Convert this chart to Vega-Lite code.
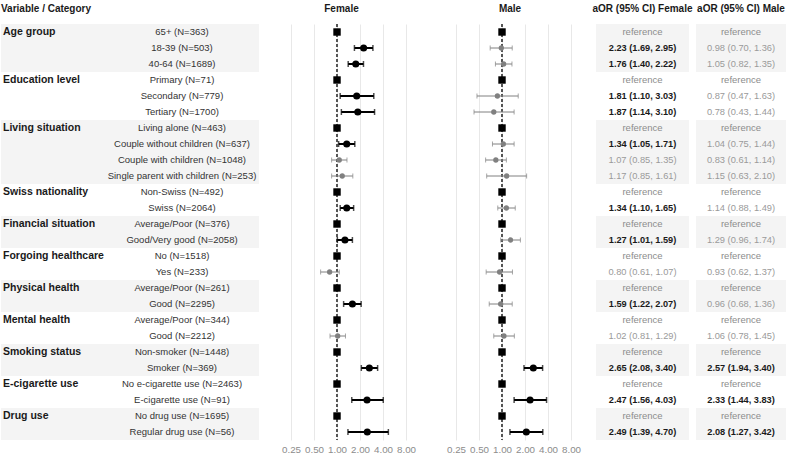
{
  "$schema": "https://vega.github.io/schema/vega-lite/v6.json",
  "padding": {"left": 1, "top": 3, "right": 0, "bottom": 0},
  "bounds": "flush",
  "spacing": 0,
  "config": {
    "view": {"stroke": null},
    "title": {"font": "Liberation Sans", "fontSize": 10, "fontWeight": "bold", "color": "#1a1a1a", "offset": 10},
    "axis": {"ticks": false, "domain": false, "gridColor": "#e8e8e8", "gridWidth": 1, "labelFont": "Liberation Sans", "labelFontSize": 9.8, "labelColor": "#8c8c8c", "labelPadding": 4, "labelOverlap": false, "labelBound": false, "title": null}
  },
  "datasets": {
    "rows": [
      {"r":1,"variable":"Age group","category":"65+ (N=363)","shade":1},
      {"r":2,"variable":"","category":"18-39 (N=503)","shade":1},
      {"r":3,"variable":"","category":"40-64 (N=1689)","shade":1},
      {"r":4,"variable":"Education level","category":"Primary (N=71)","shade":0},
      {"r":5,"variable":"","category":"Secondary (N=779)","shade":0},
      {"r":6,"variable":"","category":"Tertiary (N=1700)","shade":0},
      {"r":7,"variable":"Living situation","category":"Living alone (N=463)","shade":1},
      {"r":8,"variable":"","category":"Couple without children (N=637)","shade":1},
      {"r":9,"variable":"","category":"Couple with children (N=1048)","shade":1},
      {"r":10,"variable":"","category":"Single parent with children (N=253)","shade":1},
      {"r":11,"variable":"Swiss nationality","category":"Non-Swiss (N=492)","shade":0},
      {"r":12,"variable":"","category":"Swiss (N=2064)","shade":0},
      {"r":13,"variable":"Financial situation","category":"Average/Poor (N=376)","shade":1},
      {"r":14,"variable":"","category":"Good/Very good (N=2058)","shade":1},
      {"r":15,"variable":"Forgoing healthcare","category":"No (N=1518)","shade":0},
      {"r":16,"variable":"","category":"Yes (N=233)","shade":0},
      {"r":17,"variable":"Physical health","category":"Average/Poor (N=261)","shade":1},
      {"r":18,"variable":"","category":"Good (N=2295)","shade":1},
      {"r":19,"variable":"Mental health","category":"Average/Poor (N=344)","shade":0},
      {"r":20,"variable":"","category":"Good (N=2212)","shade":0},
      {"r":21,"variable":"Smoking status","category":"Non-smoker (N=1448)","shade":1},
      {"r":22,"variable":"","category":"Smoker (N=369)","shade":1},
      {"r":23,"variable":"E-cigarette use","category":"No e-cigarette use (N=2463)","shade":0},
      {"r":24,"variable":"","category":"E-cigarette use (N=91)","shade":0},
      {"r":25,"variable":"Drug use","category":"No drug use (N=1695)","shade":1},
      {"r":26,"variable":"","category":"Regular drug use (N=56)","shade":1}
    ],
    "est": [
      {"r":1,"sex":"Female","or":1,"lo":1,"hi":1,"type":"ref","label":"reference"},
      {"r":2,"sex":"Female","or":2.23,"lo":1.69,"hi":2.95,"type":"sig","label":"2.23 (1.69, 2.95)"},
      {"r":3,"sex":"Female","or":1.76,"lo":1.40,"hi":2.22,"type":"sig","label":"1.76 (1.40, 2.22)"},
      {"r":4,"sex":"Female","or":1,"lo":1,"hi":1,"type":"ref","label":"reference"},
      {"r":5,"sex":"Female","or":1.81,"lo":1.10,"hi":3.03,"type":"sig","label":"1.81 (1.10, 3.03)"},
      {"r":6,"sex":"Female","or":1.87,"lo":1.14,"hi":3.10,"type":"sig","label":"1.87 (1.14, 3.10)"},
      {"r":7,"sex":"Female","or":1,"lo":1,"hi":1,"type":"ref","label":"reference"},
      {"r":8,"sex":"Female","or":1.34,"lo":1.05,"hi":1.71,"type":"sig","label":"1.34 (1.05, 1.71)"},
      {"r":9,"sex":"Female","or":1.07,"lo":0.85,"hi":1.35,"type":"ns","label":"1.07 (0.85, 1.35)"},
      {"r":10,"sex":"Female","or":1.17,"lo":0.85,"hi":1.61,"type":"ns","label":"1.17 (0.85, 1.61)"},
      {"r":11,"sex":"Female","or":1,"lo":1,"hi":1,"type":"ref","label":"reference"},
      {"r":12,"sex":"Female","or":1.34,"lo":1.10,"hi":1.65,"type":"sig","label":"1.34 (1.10, 1.65)"},
      {"r":13,"sex":"Female","or":1,"lo":1,"hi":1,"type":"ref","label":"reference"},
      {"r":14,"sex":"Female","or":1.27,"lo":1.01,"hi":1.59,"type":"sig","label":"1.27 (1.01, 1.59)"},
      {"r":15,"sex":"Female","or":1,"lo":1,"hi":1,"type":"ref","label":"reference"},
      {"r":16,"sex":"Female","or":0.80,"lo":0.61,"hi":1.07,"type":"ns","label":"0.80 (0.61, 1.07)"},
      {"r":17,"sex":"Female","or":1,"lo":1,"hi":1,"type":"ref","label":"reference"},
      {"r":18,"sex":"Female","or":1.59,"lo":1.22,"hi":2.07,"type":"sig","label":"1.59 (1.22, 2.07)"},
      {"r":19,"sex":"Female","or":1,"lo":1,"hi":1,"type":"ref","label":"reference"},
      {"r":20,"sex":"Female","or":1.02,"lo":0.81,"hi":1.29,"type":"ns","label":"1.02 (0.81, 1.29)"},
      {"r":21,"sex":"Female","or":1,"lo":1,"hi":1,"type":"ref","label":"reference"},
      {"r":22,"sex":"Female","or":2.65,"lo":2.08,"hi":3.40,"type":"sig","label":"2.65 (2.08, 3.40)"},
      {"r":23,"sex":"Female","or":1,"lo":1,"hi":1,"type":"ref","label":"reference"},
      {"r":24,"sex":"Female","or":2.47,"lo":1.56,"hi":4.03,"type":"sig","label":"2.47 (1.56, 4.03)"},
      {"r":25,"sex":"Female","or":1,"lo":1,"hi":1,"type":"ref","label":"reference"},
      {"r":26,"sex":"Female","or":2.49,"lo":1.39,"hi":4.70,"type":"sig","label":"2.49 (1.39, 4.70)"},
      {"r":1,"sex":"Male","or":1,"lo":1,"hi":1,"type":"ref","label":"reference"},
      {"r":2,"sex":"Male","or":0.98,"lo":0.70,"hi":1.36,"type":"ns","label":"0.98 (0.70, 1.36)"},
      {"r":3,"sex":"Male","or":1.05,"lo":0.82,"hi":1.35,"type":"ns","label":"1.05 (0.82, 1.35)"},
      {"r":4,"sex":"Male","or":1,"lo":1,"hi":1,"type":"ref","label":"reference"},
      {"r":5,"sex":"Male","or":0.87,"lo":0.47,"hi":1.63,"type":"ns","label":"0.87 (0.47, 1.63)"},
      {"r":6,"sex":"Male","or":0.78,"lo":0.43,"hi":1.44,"type":"ns","label":"0.78 (0.43, 1.44)"},
      {"r":7,"sex":"Male","or":1,"lo":1,"hi":1,"type":"ref","label":"reference"},
      {"r":8,"sex":"Male","or":1.04,"lo":0.75,"hi":1.44,"type":"ns","label":"1.04 (0.75, 1.44)"},
      {"r":9,"sex":"Male","or":0.83,"lo":0.61,"hi":1.14,"type":"ns","label":"0.83 (0.61, 1.14)"},
      {"r":10,"sex":"Male","or":1.15,"lo":0.63,"hi":2.10,"type":"ns","label":"1.15 (0.63, 2.10)"},
      {"r":11,"sex":"Male","or":1,"lo":1,"hi":1,"type":"ref","label":"reference"},
      {"r":12,"sex":"Male","or":1.14,"lo":0.88,"hi":1.49,"type":"ns","label":"1.14 (0.88, 1.49)"},
      {"r":13,"sex":"Male","or":1,"lo":1,"hi":1,"type":"ref","label":"reference"},
      {"r":14,"sex":"Male","or":1.29,"lo":0.96,"hi":1.74,"type":"ns","label":"1.29 (0.96, 1.74)"},
      {"r":15,"sex":"Male","or":1,"lo":1,"hi":1,"type":"ref","label":"reference"},
      {"r":16,"sex":"Male","or":0.93,"lo":0.62,"hi":1.37,"type":"ns","label":"0.93 (0.62, 1.37)"},
      {"r":17,"sex":"Male","or":1,"lo":1,"hi":1,"type":"ref","label":"reference"},
      {"r":18,"sex":"Male","or":0.96,"lo":0.68,"hi":1.36,"type":"ns","label":"0.96 (0.68, 1.36)"},
      {"r":19,"sex":"Male","or":1,"lo":1,"hi":1,"type":"ref","label":"reference"},
      {"r":20,"sex":"Male","or":1.06,"lo":0.78,"hi":1.45,"type":"ns","label":"1.06 (0.78, 1.45)"},
      {"r":21,"sex":"Male","or":1,"lo":1,"hi":1,"type":"ref","label":"reference"},
      {"r":22,"sex":"Male","or":2.57,"lo":1.94,"hi":3.40,"type":"sig","label":"2.57 (1.94, 3.40)"},
      {"r":23,"sex":"Male","or":1,"lo":1,"hi":1,"type":"ref","label":"reference"},
      {"r":24,"sex":"Male","or":2.33,"lo":1.44,"hi":3.83,"type":"sig","label":"2.33 (1.44, 3.83)"},
      {"r":25,"sex":"Male","or":1,"lo":1,"hi":1,"type":"ref","label":"reference"},
      {"r":26,"sex":"Male","or":2.08,"lo":1.27,"hi":3.42,"type":"sig","label":"2.08 (1.27, 3.42)"}
    ]
  },
  "hconcat": [
    {
      "width": 258, "height": 416,
      "title": {"text": "Variable / Category", "anchor": "start"},
      "data": {"name": "rows"},
      "layer": [
        {"transform": [{"filter": "datum.shade == 1"}], "mark": {"type": "rect", "color": "#f4f4f4"},
         "encoding": {"y": {"field": "r", "type": "ordinal", "scale": {"domain": [1,2,3,4,5,6,7,8,9,10,11,12,13,14,15,16,17,18,19,20,21,22,23,24,25,26], "paddingInner": 0, "paddingOuter": 0}, "axis": null}}},
        {"mark": {"type": "text", "align": "left", "baseline": "middle", "font": "Liberation Sans", "fontSize": 10.5, "fontWeight": "bold", "color": "#1a1a1a"},
         "encoding": {"y": {"field": "r", "type": "ordinal"}, "x": {"datum": "var", "type": "nominal", "scale": {"type": "point", "domain": ["var", "cat"], "range": [2, 181], "padding": 0}, "axis": null}, "text": {"field": "variable"}}},
        {"mark": {"type": "text", "align": "center", "baseline": "middle", "font": "Liberation Sans", "fontSize": 9.5, "color": "#333333"},
         "encoding": {"y": {"field": "r", "type": "ordinal"}, "x": {"datum": "cat", "type": "nominal"}, "text": {"field": "category"}}}
      ]
    },
    {
      "width": 165, "height": 416,
      "title": "Female",
      "data": {"name": "est"},
      "transform": [{"filter": "datum.sex == 'Female'"}],
      "encoding": {
        "y": {"field": "r", "type": "ordinal", "scale": {"domain": [1,2,3,4,5,6,7,8,9,10,11,12,13,14,15,16,17,18,19,20,21,22,23,24,25,26], "paddingInner": 0, "paddingOuter": 0}, "axis": null}
      },
      "layer": [
        {"mark": {"type": "rule", "color": "#555555", "strokeDash": [3, 2], "strokeWidth": 1},
         "encoding": {"x": {"datum": 1, "type": "quantitative", "scale": {"type": "log", "base": 2, "domain": [0.0952, 13.76], "nice": false, "zero": false}, "axis": {"values": [0.25, 0.5, 1, 2, 4, 8], "format": ".2f", "grid": true, "orient": "bottom"}}, "y": null}},
        {"transform": [{"filter": "datum.type == 'ns'"}], "mark": {"type": "rule", "color": "#808080", "strokeWidth": 1},
         "encoding": {"x": {"field": "lo", "type": "quantitative"}, "x2": {"field": "hi"}}},
        {"transform": [{"filter": "datum.type == 'ns'"}, {"fold": ["lo", "hi"], "as": ["k", "v"]}], "mark": {"type": "tick", "color": "#808080", "thickness": 1, "size": 5},
         "encoding": {"x": {"field": "v", "type": "quantitative"}}},
        {"transform": [{"filter": "datum.type == 'ns'"}], "mark": {"type": "circle", "color": "#808080", "opacity": 1, "size": 28},
         "encoding": {"x": {"field": "or", "type": "quantitative"}}},
        {"transform": [{"filter": "datum.type == 'sig'"}], "mark": {"type": "rule", "color": "#000000", "strokeWidth": 2},
         "encoding": {"x": {"field": "lo", "type": "quantitative"}, "x2": {"field": "hi"}}},
        {"transform": [{"filter": "datum.type == 'sig'"}, {"fold": ["lo", "hi"], "as": ["k", "v"]}], "mark": {"type": "tick", "color": "#000000", "thickness": 1.5, "size": 6},
         "encoding": {"x": {"field": "v", "type": "quantitative"}}},
        {"transform": [{"filter": "datum.type == 'sig'"}], "mark": {"type": "circle", "color": "#000000", "opacity": 1, "size": 50},
         "encoding": {"x": {"field": "or", "type": "quantitative"}}},
        {"transform": [{"filter": "datum.type == 'ref'"}], "mark": {"type": "square", "color": "#000000", "opacity": 1, "size": 55},
         "encoding": {"x": {"field": "or", "type": "quantitative"}}}
      ]
    },
    {
      "width": 172, "height": 416,
      "title": "Male",
      "data": {"name": "est"},
      "transform": [{"filter": "datum.sex == 'Male'"}],
      "encoding": {
        "y": {"field": "r", "type": "ordinal", "scale": {"domain": [1,2,3,4,5,6,7,8,9,10,11,12,13,14,15,16,17,18,19,20,21,22,23,24,25,26], "paddingInner": 0, "paddingOuter": 0}, "axis": null}
      },
      "layer": [
        {"mark": {"type": "rule", "color": "#555555", "strokeDash": [3, 2], "strokeWidth": 1},
         "encoding": {"x": {"datum": 1, "type": "quantitative", "scale": {"type": "log", "base": 2, "domain": [0.0952, 17.0], "nice": false, "zero": false}, "axis": {"values": [0.25, 0.5, 1, 2, 4, 8], "format": ".2f", "grid": true, "orient": "bottom"}}, "y": null}},
        {"transform": [{"filter": "datum.type == 'ns'"}], "mark": {"type": "rule", "color": "#808080", "strokeWidth": 1},
         "encoding": {"x": {"field": "lo", "type": "quantitative"}, "x2": {"field": "hi"}}},
        {"transform": [{"filter": "datum.type == 'ns'"}, {"fold": ["lo", "hi"], "as": ["k", "v"]}], "mark": {"type": "tick", "color": "#808080", "thickness": 1, "size": 5},
         "encoding": {"x": {"field": "v", "type": "quantitative"}}},
        {"transform": [{"filter": "datum.type == 'ns'"}], "mark": {"type": "circle", "color": "#808080", "opacity": 1, "size": 28},
         "encoding": {"x": {"field": "or", "type": "quantitative"}}},
        {"transform": [{"filter": "datum.type == 'sig'"}], "mark": {"type": "rule", "color": "#000000", "strokeWidth": 2},
         "encoding": {"x": {"field": "lo", "type": "quantitative"}, "x2": {"field": "hi"}}},
        {"transform": [{"filter": "datum.type == 'sig'"}, {"fold": ["lo", "hi"], "as": ["k", "v"]}], "mark": {"type": "tick", "color": "#000000", "thickness": 1.5, "size": 6},
         "encoding": {"x": {"field": "v", "type": "quantitative"}}},
        {"transform": [{"filter": "datum.type == 'sig'"}], "mark": {"type": "circle", "color": "#000000", "opacity": 1, "size": 50},
         "encoding": {"x": {"field": "or", "type": "quantitative"}}},
        {"transform": [{"filter": "datum.type == 'ref'"}], "mark": {"type": "square", "color": "#000000", "opacity": 1, "size": 55},
         "encoding": {"x": {"field": "or", "type": "quantitative"}}}
      ]
    },
    {
      "spacing": 7,
      "bounds": "flush",
      "hconcat": [
        {
          "width": 93, "height": 416,
          "title": "aOR (95% CI) Female",
          "encoding": {"y": {"field": "r", "type": "ordinal", "scale": {"domain": [1,2,3,4,5,6,7,8,9,10,11,12,13,14,15,16,17,18,19,20,21,22,23,24,25,26], "paddingInner": 0, "paddingOuter": 0}, "axis": null}},
          "layer": [
            {"data": {"name": "rows"}, "transform": [{"filter": "datum.shade == 1"}], "mark": {"type": "rect", "color": "#f4f4f4"}},
            {"data": {"name": "est"}, "transform": [{"filter": "datum.sex == 'Female' && datum.type == 'ref'"}], "mark": {"type": "text", "baseline": "middle", "font": "Liberation Sans", "fontSize": 9.5, "color": "#8c8c8c"}, "encoding": {"text": {"field": "label"}}},
            {"data": {"name": "est"}, "transform": [{"filter": "datum.sex == 'Female' && datum.type == 'ns'"}], "mark": {"type": "text", "baseline": "middle", "font": "Liberation Sans", "fontSize": 9.3, "color": "#9a9a9a"}, "encoding": {"text": {"field": "label"}}},
            {"data": {"name": "est"}, "transform": [{"filter": "datum.sex == 'Female' && datum.type == 'sig'"}], "mark": {"type": "text", "baseline": "middle", "font": "Liberation Sans", "fontSize": 9.2, "fontWeight": "bold", "color": "#1a1a1a"}, "encoding": {"text": {"field": "label"}}}
          ]
        },
        {
          "width": 90, "height": 416,
          "title": "aOR (95% CI) Male",
          "encoding": {"y": {"field": "r", "type": "ordinal", "scale": {"domain": [1,2,3,4,5,6,7,8,9,10,11,12,13,14,15,16,17,18,19,20,21,22,23,24,25,26], "paddingInner": 0, "paddingOuter": 0}, "axis": null}},
          "layer": [
            {"data": {"name": "rows"}, "transform": [{"filter": "datum.shade == 1"}], "mark": {"type": "rect", "color": "#f4f4f4"}},
            {"data": {"name": "est"}, "transform": [{"filter": "datum.sex == 'Male' && datum.type == 'ref'"}], "mark": {"type": "text", "baseline": "middle", "font": "Liberation Sans", "fontSize": 9.5, "color": "#8c8c8c"}, "encoding": {"text": {"field": "label"}}},
            {"data": {"name": "est"}, "transform": [{"filter": "datum.sex == 'Male' && datum.type == 'ns'"}], "mark": {"type": "text", "baseline": "middle", "font": "Liberation Sans", "fontSize": 9.3, "color": "#9a9a9a"}, "encoding": {"text": {"field": "label"}}},
            {"data": {"name": "est"}, "transform": [{"filter": "datum.sex == 'Male' && datum.type == 'sig'"}], "mark": {"type": "text", "baseline": "middle", "font": "Liberation Sans", "fontSize": 9.2, "fontWeight": "bold", "color": "#1a1a1a"}, "encoding": {"text": {"field": "label"}}}
          ]
        }
      ]
    }
  ]
}
